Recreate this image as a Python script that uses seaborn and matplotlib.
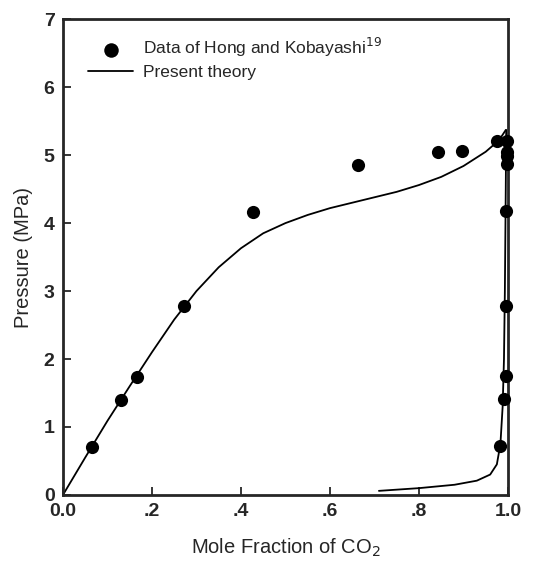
import matplotlib
matplotlib.use("Agg")
import matplotlib.pyplot as plt
import seaborn as sns
import pandas as pd

# Experimental data (Hong and Kobayashi)
data_x = [0.065, 0.13, 0.166, 0.272, 0.427, 0.663, 0.843, 0.897, 0.975,
          0.997, 0.997, 0.997, 0.997, 0.996, 0.996, 0.995, 0.990, 0.983]
data_p = [0.71, 1.40, 1.74, 2.78, 4.16, 4.85, 5.04, 5.06, 5.21,
          5.21, 5.04, 4.98, 4.87, 4.18, 2.78, 1.75, 1.41, 0.72]

# Present theory - liquid branch
liq_x = [0.0, 0.05, 0.1, 0.15, 0.2, 0.25, 0.3, 0.35, 0.4, 0.45, 0.5, 0.55,
         0.6, 0.65, 0.7, 0.75, 0.8, 0.85, 0.9, 0.95, 0.98, 0.995]
liq_p = [0.0, 0.55, 1.09, 1.6, 2.1, 2.58, 3.0, 3.35, 3.63, 3.85, 4.0, 4.12,
         4.22, 4.3, 4.38, 4.46, 4.56, 4.68, 4.84, 5.05, 5.22, 5.37]

# Present theory - vapour branch
vap_x = [0.71, 0.8, 0.88, 0.93, 0.96, 0.975, 0.983, 0.988, 0.991, 0.993, 0.995, 0.996]
vap_p = [0.06, 0.1, 0.15, 0.21, 0.3, 0.45, 0.75, 1.3, 2.0, 3.0, 4.5, 5.37]

x_ticks = [0.0, 0.2, 0.4, 0.6, 0.8, 1.0]
x_ticklabels = ["0.0", ".2", ".4", ".6", ".8", "1.0"]
y_ticks = [0, 1, 2, 3, 4, 5, 6, 7]

sns.set_style("ticks")
plt.rcParams['font.family'] = ['Liberation Sans', 'DejaVu Sans']

fig = plt.figure(figsize=(5.57, 5.65), dpi=100)
ax = fig.add_axes([0.113, 0.124, 0.799, 0.842])

df_liq = pd.DataFrame({"x": liq_x, "p": liq_p})
df_vap = pd.DataFrame({"x": vap_x, "p": vap_p})
df_dat = pd.DataFrame({"x": data_x, "p": data_p})

sns.lineplot(data=df_liq, x="x", y="p", ax=ax, color="black", lw=1.3,
             sort=False, estimator=None, label="Present theory")
sns.lineplot(data=df_vap, x="x", y="p", ax=ax, color="black", lw=1.3,
             sort=False, estimator=None)
sns.scatterplot(data=df_dat, x="x", y="p", ax=ax, color="black", s=90,
                edgecolor="black", linewidth=0, clip_on=False, zorder=5,
                label=r"Data of Hong and Kobayashi$^{19}$")

ax.set_xlim(0, 1.0)
ax.set_ylim(0, 7)
ax.set_xticks(x_ticks)
ax.set_xticklabels(x_ticklabels)
ax.set_yticks(y_ticks)
ax.tick_params(direction="in", length=6, width=1.3, labelsize=14, pad=6)
for lbl in ax.get_xticklabels() + ax.get_yticklabels():
    lbl.set_fontweight("bold")
for s in ax.spines.values():
    s.set_visible(True)
    s.set_linewidth(2)

ax.set_xlabel("Mole Fraction of CO$_2$", fontsize=14.5, labelpad=12)
ax.set_ylabel("Pressure (MPa)", fontsize=14.5, labelpad=8)

handles, labels = ax.get_legend_handles_labels()
order = [labels.index(r"Data of Hong and Kobayashi$^{19}$"), labels.index("Present theory")]
leg = ax.legend([handles[i] for i in order], [labels[i] for i in order],
                loc="upper left", frameon=False, fontsize=12.5, handlelength=2.6,
                borderaxespad=0.3, labelspacing=0.32, handletextpad=0.55,
                markerscale=1.1, bbox_to_anchor=(0.029, 0.99))

fig.savefig("out.png", dpi=100)
